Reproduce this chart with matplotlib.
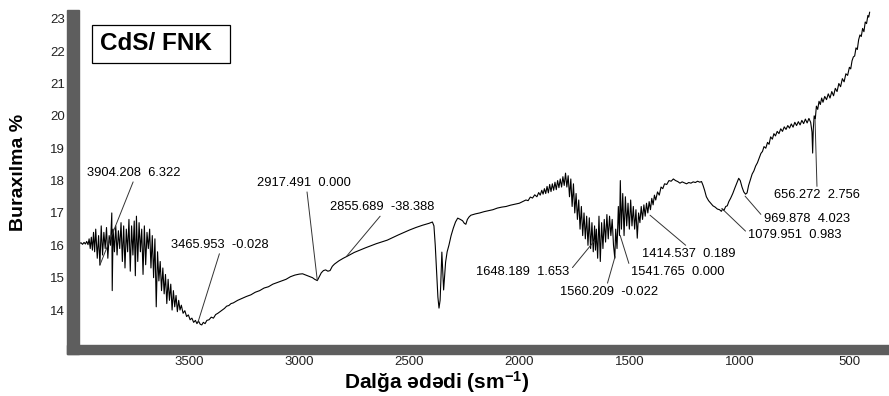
import matplotlib
matplotlib.use("Agg")
import matplotlib.pyplot as plt
from matplotlib.patches import Rectangle

plt.rcParams['font.family'] = ['Liberation Sans', 'DejaVu Sans']
plt.rcParams['mathtext.fontset'] = 'custom'
plt.rcParams['mathtext.rm'] = 'Liberation Sans:bold'
plt.rcParams['mathtext.default'] = 'rm'

# IR spectrum: wavenumber (sm-1) and transmittance (%)
wavenumber = [
    4000, 3992, 3985, 3978, 3972, 3966, 3960, 3955, 3950, 3945, 3940,
    3935, 3930, 3925, 3918, 3912, 3906, 3900, 3894, 3888, 3882, 3876, 3870,
    3864, 3858, 3852, 3850, 3846, 3840, 3834, 3828, 3822, 3816, 3810, 3804,
    3798, 3792, 3786, 3780, 3774, 3768, 3762, 3756, 3750, 3745, 3740, 3734,
    3728, 3722, 3716, 3710, 3704, 3698, 3692, 3686, 3680, 3674, 3668, 3662,
    3656, 3650, 3644, 3638, 3632, 3626, 3620, 3614, 3608, 3602, 3596, 3590,
    3584, 3578, 3572, 3566, 3560, 3554, 3548, 3542, 3536, 3528, 3520, 3512,
    3504, 3496, 3488, 3480, 3472, 3465, 3458, 3450, 3443, 3436, 3428, 3420,
    3410, 3400, 3390, 3380, 3370, 3360, 3350, 3340, 3330, 3320, 3310, 3300,
    3280, 3260, 3240, 3220, 3200, 3180, 3160, 3140, 3120, 3100, 3080, 3060,
    3040, 3020, 3000, 2985, 2970, 2955, 2940, 2930, 2918, 2910, 2900, 2890,
    2880, 2870, 2860, 2850, 2840, 2820, 2800, 2780, 2750, 2700, 2650, 2600,
    2550, 2500, 2470, 2440, 2410, 2395, 2388, 2382, 2376, 2370, 2365, 2360,
    2356, 2352, 2348, 2344, 2340, 2335, 2328, 2320, 2310, 2300, 2290, 2280,
    2268, 2258, 2250, 2243, 2236, 2228, 2220, 2200, 2180, 2160, 2140, 2120,
    2100, 2080, 2060, 2040, 2020, 2000, 1985, 1970, 1960, 1950, 1940, 1930,
    1920, 1912, 1905, 1898, 1892, 1886, 1880, 1874, 1868, 1862, 1856, 1850,
    1844, 1838, 1832, 1826, 1820, 1814, 1808, 1802, 1796, 1790, 1784, 1778,
    1772, 1766, 1760, 1754, 1748, 1742, 1736, 1730, 1724, 1718, 1712, 1706,
    1700, 1694, 1688, 1682, 1676, 1670, 1664, 1658, 1654, 1650, 1644, 1638,
    1632, 1626, 1620, 1614, 1608, 1602, 1596, 1590, 1584, 1578, 1572, 1566,
    1562, 1556, 1550, 1545, 1541, 1536, 1530, 1524, 1518, 1512, 1506, 1500,
    1494, 1488, 1482, 1476, 1470, 1464, 1458, 1452, 1446, 1440, 1434, 1428,
    1422, 1416, 1410, 1404, 1398, 1392, 1386, 1380, 1372, 1364, 1356, 1348,
    1340, 1330, 1320, 1310, 1300, 1290, 1280, 1270, 1260, 1250, 1240, 1230,
    1220, 1210, 1200, 1190, 1180, 1172, 1165, 1158, 1150, 1140, 1130, 1120,
    1110, 1100, 1090, 1082, 1076, 1070, 1062, 1055, 1048, 1040, 1030, 1020,
    1010, 1003, 996, 988, 980, 972, 965, 958, 950, 942, 934, 926,
    918, 910, 902, 895, 888, 880, 872, 865, 858, 850, 843, 836,
    828, 820, 812, 804, 796, 788, 780, 772, 764, 756, 748, 740,
    732, 724, 716, 708, 700, 692, 684, 676, 670, 667, 664, 660,
    655, 650, 644, 638, 632, 626, 620, 612, 604, 596, 588, 580,
    572, 564, 556, 548, 540, 532, 524, 516, 508, 500, 494, 488,
    482, 476, 470, 464, 458, 452, 446, 440, 434, 428, 422, 416,
    412, 408,
]
transmittance = [
    16.05, 16.08, 16.03, 16.09, 16.04, 16.12, 16.02, 16.2, 15.9, 16.25, 15.85,
    16.4, 15.8, 16.5, 15.6, 16.3, 15.39, 16.6, 15.7, 16.4, 15.9, 16.55, 15.6,
    16.3, 16.0, 17.0, 14.6, 16.5, 15.8, 16.6, 15.7, 16.45, 15.9, 16.7, 15.5,
    16.6, 15.3, 16.5, 15.8, 16.8, 15.2, 16.6, 15.7, 16.75, 15.06, 16.9, 15.5,
    16.7, 15.8, 16.5, 15.1, 16.6, 15.4, 16.4, 15.9, 16.5, 15.3, 16.3, 15.0,
    16.2, 14.1, 15.8, 14.9, 15.5, 14.6, 15.3, 14.5, 15.1, 14.2, 14.95, 14.3,
    14.8, 14.0, 14.6, 14.1, 14.45, 13.95, 14.3, 14.0, 14.15, 13.9, 13.98, 13.8,
    13.85, 13.7, 13.75, 13.62, 13.68, 13.58, 13.66, 13.56, 13.54, 13.62, 13.58, 13.68,
    13.7, 13.78, 13.75, 13.86, 13.9, 13.95, 14.0, 14.05, 14.12, 14.14, 14.2, 14.22,
    14.3, 14.36, 14.42, 14.47, 14.55, 14.6, 14.68, 14.72, 14.8, 14.85, 14.9, 14.95,
    15.03, 15.08, 15.11, 15.12, 15.08, 15.04, 15.0, 14.95, 14.91, 15.02, 15.15, 15.22,
    15.24, 15.2, 15.22, 15.35, 15.42, 15.52, 15.6, 15.67, 15.78, 15.92, 16.05, 16.16,
    16.32, 16.47, 16.55, 16.62, 16.68, 16.72, 16.6, 16.0, 15.2, 14.4, 14.06, 14.3,
    15.0, 15.79, 15.2, 14.62, 15.0, 15.48, 15.8, 16.0, 16.3, 16.53, 16.72, 16.84,
    16.8, 16.76, 16.68, 16.65, 16.8, 16.88, 16.93, 16.97, 17.0, 17.04, 17.07, 17.1,
    17.15, 17.18, 17.2, 17.24, 17.27, 17.3, 17.35, 17.4, 17.38, 17.49, 17.46, 17.56,
    17.5, 17.63, 17.55, 17.7, 17.58, 17.75, 17.6, 17.82, 17.62, 17.88, 17.66, 17.9,
    17.7, 17.95, 17.72, 18.0, 17.78, 18.05, 17.8, 18.12, 17.85, 18.23, 17.8, 18.15,
    17.5, 18.05, 17.2, 17.9, 17.0, 17.6, 16.8, 17.4, 16.5, 17.2, 16.3, 17.0,
    16.2, 16.9, 16.0, 16.85, 15.9, 16.7, 15.8, 16.6, 15.85, 16.5, 15.6, 16.9,
    15.5, 16.7, 15.9, 16.8, 16.1, 16.95, 16.2, 16.9, 16.3, 16.8, 16.0, 15.6,
    16.5, 15.9, 17.2, 16.3, 18.0, 16.5, 17.6, 16.3, 17.5, 16.6, 17.3, 16.5,
    17.4, 16.6, 17.2, 16.5, 17.1, 16.22, 17.0, 16.7, 17.2, 16.8, 17.25, 16.9,
    17.3, 17.0, 17.35, 17.1, 17.45, 17.25, 17.55, 17.4, 17.65, 17.55, 17.8, 17.75,
    17.9, 17.88, 18.0, 17.98, 18.05, 18.0, 17.97, 17.92, 17.96, 17.93, 17.9, 17.94,
    17.92, 17.96, 17.94, 17.98, 17.95, 17.97, 17.85, 17.7, 17.5, 17.38, 17.3, 17.22,
    17.18, 17.12, 17.1, 17.05, 17.12, 17.08, 17.2, 17.22, 17.35, 17.45, 17.6, 17.78,
    17.95, 18.07, 18.0, 17.8, 17.65, 17.58, 17.62, 17.85, 18.02, 18.2, 18.3, 18.45,
    18.55, 18.7, 18.84, 18.9, 19.05, 19.0, 19.18, 19.12, 19.35, 19.28, 19.45, 19.38,
    19.52, 19.45, 19.6, 19.52, 19.66, 19.58, 19.7, 19.62, 19.75, 19.65, 19.8, 19.7,
    19.82, 19.72, 19.86, 19.76, 19.9, 19.78, 19.92, 19.8, 19.5, 18.85, 19.6, 20.0,
    19.9, 20.3, 20.2, 20.45, 20.35, 20.55, 20.42, 20.6, 20.5, 20.68, 20.55, 20.75,
    20.62, 20.85, 20.75, 21.0, 20.9, 21.15, 21.05, 21.3, 21.25, 21.5, 21.45, 21.7,
    21.82, 21.85, 22.1, 22.05, 22.35, 22.5, 22.45, 22.7, 22.6, 22.9, 22.85, 23.1,
    23.05, 23.2,
]

# peak labels: text, point on the curve, text centre, where the leader leaves the text
peak_labels = [
    "3904.208  6.322", "3465.953  -0.028", "2917.491  0.000", "2855.689  -38.388",
    "1648.189  1.653", "1560.209  -0.022", "1541.765  0.000", "1414.537  0.189",
    "1079.951  0.983", "969.878  4.023", "656.272  2.756",
]
peak_points = [
    (3906, 15.39), (3460, 13.63), (2918, 14.91), (2784, 15.67),
    (1656, 16.16), (1565, 15.65), (1542, 16.31), (1406, 16.93),
    (1080, 17.14), (974, 17.52), (656, 19.87),
]
label_centres = [
    (3750, 18.23), (3359, 16.01), (2979, 17.92), (2622, 17.17),
    (1983, 15.17), (1594, 14.56), (1279, 15.17), (1229, 15.73),
    (747, 16.32), (694, 16.82), (647, 17.55),
]
leader_from = [
    (0.5, 0), (0.5, 0), (0.53, 0), (0.5, 0),
    (1, 0.6), (0.48, 1), (0, 0.6), (0.5, 1),
    (0, 0.6), (0, 0.6), (0.5, 1),
]

x_major = [3500, 3000, 2500, 2000, 1500, 1000, 500]
x_minor = list(range(400, 4001, 100))
y_ticks = [13, 14, 15, 16, 17, 18, 19, 20, 21, 22, 23]
y_ticklabels = [''] + [str(v) for v in y_ticks[1:]]

W, H = 889, 396
fig = plt.figure(figsize=(W / 100, H / 100), dpi=100)
ax = fig.add_axes([79 / W, (H - 345) / H, 1 - 79 / W, (345 - 10) / H])

ax.plot(wavenumber, transmittance, color='black', lw=0.8)
ax.set_xlim(4001, 320)
ax.set_ylim(12.92, 23.27)

for s in ax.spines.values():
    s.set_visible(False)

# grey frame bars on the left and bottom
bar = '#5e5e5e'
fig.patches.append(Rectangle((67 / W, (H - 354) / H), 12 / W, 344 / H,
                             transform=fig.transFigure, color=bar, zorder=0))
fig.patches.append(Rectangle((67 / W, (H - 354) / H), 1, 9 / H,
                             transform=fig.transFigure, color=bar, zorder=0))

ax.spines['bottom'].set_position(('outward', 6.5))
ax.set_xticks(x_major)
ax.set_xticks(x_minor, minor=True)
ax.set_xticklabels([str(v) for v in x_major])
ax.tick_params(axis='x', which='major', direction='in', length=4, width=0.8,
               color='black', pad=1.5, labelsize=9.5, labelcolor='#222222')
ax.tick_params(axis='x', which='minor', direction='in', length=2.2, width=0.8,
               color='black')
ax.set_yticks(y_ticks)
ax.set_yticklabels(y_ticklabels)
ax.tick_params(axis='y', direction='out', length=3, width=0.8, color='black',
               pad=7, labelsize=9.5, labelcolor='#222222')

for lab, pt, ctr, rel in zip(peak_labels, peak_points, label_centres, leader_from):
    ax.annotate(lab, xy=pt, xytext=ctr, ha='center', va='center', fontsize=9.3,
                arrowprops=dict(arrowstyle='-', color='#333333', lw=0.7,
                                shrinkA=0, shrinkB=0, relpos=rel))

# sample name box
fig.patches.append(Rectangle((92 / W, (H - 63) / H), 138 / W, 38 / H,
                             transform=fig.transFigure, facecolor='white',
                             edgecolor='black', lw=0.9, zorder=3))
fig.text(100 / W, 1 - 43 / H, 'CdS/ FNK', fontsize=17.5, fontweight='bold',
         ha='left', va='center', zorder=4)

fig.text(19 / W, 1 - 172 / H, 'Buraxılma %', rotation=90, fontsize=14,
         fontweight='bold', ha='center', va='center')
fig.text(437 / W, 1 - 382 / H, 'Dalğa ədədi (sm$^{-1}$)', fontsize=15,
         fontweight='bold', ha='center', va='center')

fig.savefig('out.png', dpi=100, facecolor='white')
